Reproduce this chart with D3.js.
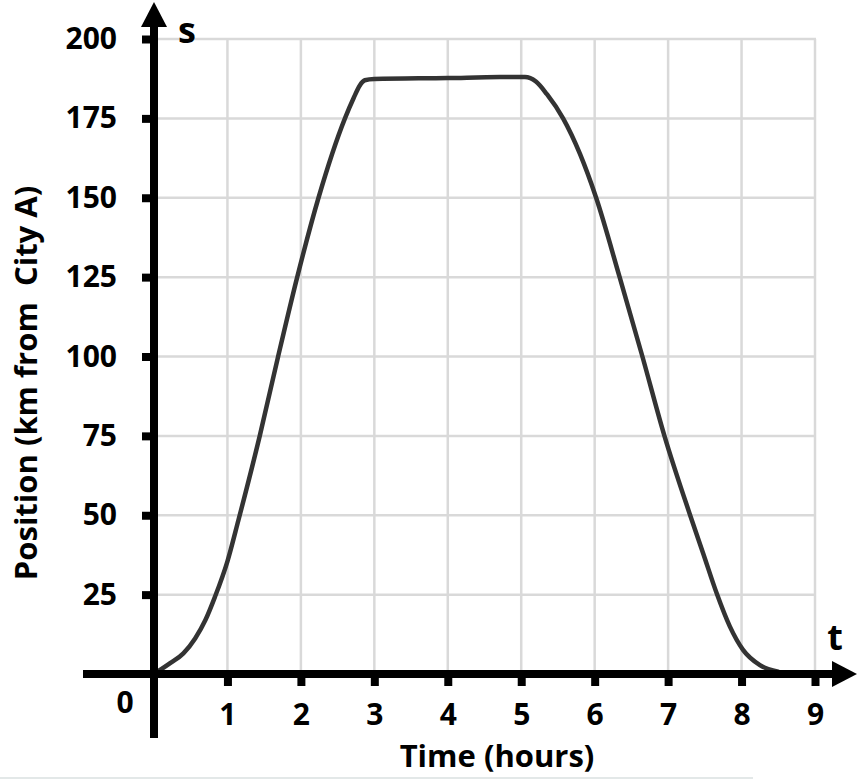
<!DOCTYPE html>
<html>
<head>
<meta charset="utf-8">
<script src="https://cdn.jsdelivr.net/npm/d3@7"></script>
<style>
  body { margin: 0; background: #fff; }
  text { font-family: "Open Sans", Lato, sans-serif; font-weight: bold; fill: #000; }
</style>
</head>
<body>
<script>
var w = 865;
var h = 779;

// position of the car over time
var timeHours  = [0, 0.22, 0.40, 0.56, 0.70, 0.83, 1.0, 1.15, 1.44, 1.69, 1.95, 2.24, 2.6, 2.72, 2.8, 2.87, 3.0, 4.0, 4.71, 5.05, 5.2, 5.35, 5.57, 5.8, 6.02, 6.34, 6.65, 6.95, 7.3, 7.48, 7.66, 7.84, 8.02, 8.25, 8.5];
var positionKm = [0, 3.4, 6.5, 11.2, 17, 24.3, 35.5, 48.5, 75, 100, 125, 150, 175, 181.5, 185.3, 187, 187.4, 187.7, 188, 188, 186.6, 182.6, 175, 163.8, 150, 125, 100, 75, 50, 37.8, 25.5, 15, 7.6, 2.8, 0.7];

var xTicks = [1, 2, 3, 4, 5, 6, 7, 8, 9];
var yTicks = [25, 50, 75, 100, 125, 150, 175, 200];

var xScale = d3.scaleLinear().domain([0, 9]).range([154, 815]);
var yScale = d3.scaleLinear().domain([0, 200]).range([674, 39]);

var svg = d3.select("body")
    .append("svg")
    .attr("width", w)
    .attr("height", h);

//grid
svg.append("g")
    .selectAll("line")
    .data(xTicks)
    .enter()
    .append("line")
    .attr("x1", function(d){ return xScale(d); })
    .attr("x2", function(d){ return xScale(d); })
    .attr("y1", yScale(0))
    .attr("y2", yScale(200))
    .attr("stroke", "#d9d9d9")
    .attr("stroke-width", 2.5);

svg.append("g")
    .selectAll("line")
    .data(yTicks)
    .enter()
    .append("line")
    .attr("x1", xScale(0))
    .attr("x2", xScale(9) + 1)
    .attr("y1", function(d){ return yScale(d); })
    .attr("y2", function(d){ return yScale(d); })
    .attr("stroke", "#d9d9d9")
    .attr("stroke-width", 2.5);

//the curve
var line = d3.line()
    .x(function(d, i){ return xScale(timeHours[i]); })
    .y(function(d){ return yScale(d); })
    .curve(d3.curveMonotoneX);

svg.append("path")
    .datum(positionKm)
    .attr("d", line)
    .attr("fill", "none")
    .attr("stroke", "#333")
    .attr("stroke-width", 4.5)
    .attr("stroke-linecap", "round");

//axis tick marks + labels
var xAxis = d3.axisBottom(xScale)
    .tickValues(xTicks)
    .tickSize(12)
    .tickPadding(18);

var gx = svg.append("g")
    .attr("transform", "translate(0," + yScale(0) + ")")
    .call(xAxis);

var yAxis = d3.axisLeft(yScale)
    .tickValues(yTicks)
    .tickSize(12)
    .tickPadding(25);

var gy = svg.append("g")
    .attr("transform", "translate(" + xScale(0) + ",0)")
    .call(yAxis);

[gx, gy].forEach(function(g){
    g.select(".domain").remove();
    g.selectAll(".tick line").attr("stroke", "#000").attr("stroke-width", 8);
    g.selectAll(".tick text")
        .style("font-size", "30px")
        .style("font-family", "'Open Sans', Lato, sans-serif")
        .style("font-weight", "bold")
        .attr("fill", "#000");
});

//main axes with arrows
svg.append("line")
    .attr("x1", 83).attr("x2", 836)
    .attr("y1", yScale(0)).attr("y2", yScale(0))
    .attr("stroke", "#000").attr("stroke-width", 8);

svg.append("path")
    .attr("d", "M857," + yScale(0) + "L832," + (yScale(0) - 13) + "L832," + (yScale(0) + 13) + "Z")
    .attr("fill", "#000");

svg.append("line")
    .attr("x1", xScale(0)).attr("x2", xScale(0))
    .attr("y1", 738).attr("y2", 24)
    .attr("stroke", "#000").attr("stroke-width", 8);

svg.append("path")
    .attr("d", "M" + xScale(0) + ",2L" + (xScale(0) - 13) + ",27L" + (xScale(0) + 13) + ",27Z")
    .attr("fill", "#000");

//labels
svg.append("text")
    .attr("x", 125).attr("y", 713)
    .attr("text-anchor", "middle")
    .style("font-size", "30px")
    .text("0");

svg.append("text")
    .attr("x", 187).attr("y", 43)
    .attr("text-anchor", "middle")
    .style("font-size", "36px")
    .text("s");

svg.append("text")
    .attr("x", 835).attr("y", 650)
    .attr("text-anchor", "middle")
    .style("font-size", "36px")
    .text("t");

svg.append("text")
    .attr("x", 497).attr("y", 767)
    .attr("text-anchor", "middle")
    .style("font-size", "31px")
    .text("Time (hours)");

svg.append("text")
    .attr("transform", "translate(37,383) rotate(-90)")
    .attr("text-anchor", "middle")
    .style("font-size", "31px")
    .style("white-space", "pre")
    .attr("xml:space", "preserve")
    .text("Position (km from  City A)");

//faint line at the bottom edge
svg.append("line")
    .attr("x1", 0).attr("x2", 753)
    .attr("y1", 778).attr("y2", 778)
    .attr("stroke", "#e3e8e8").attr("stroke-width", 2);
</script>
</body>
</html>
